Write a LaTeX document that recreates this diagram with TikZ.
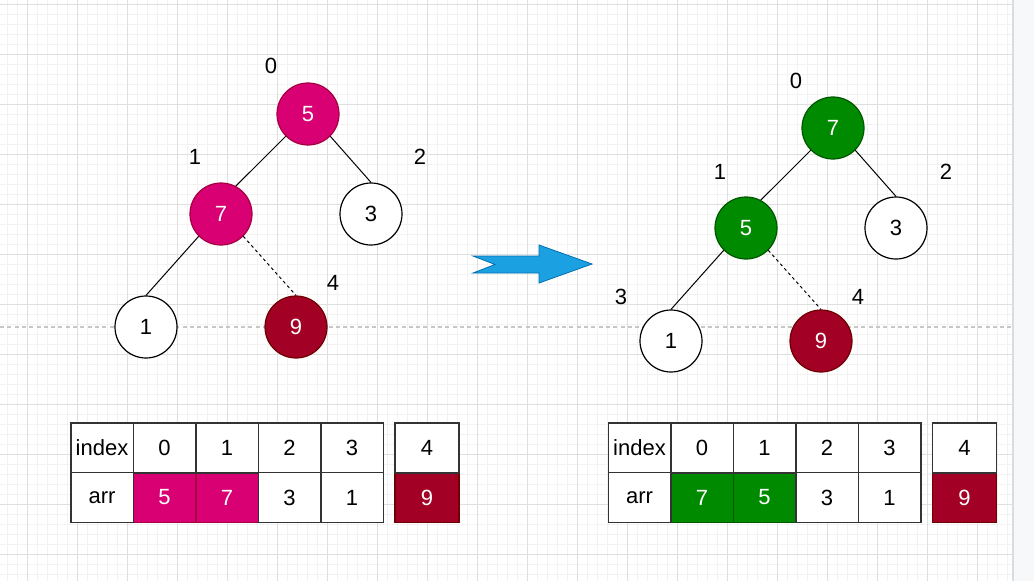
\documentclass[tikz,border=0pt]{standalone}
\usepackage{fontspec}
\setmainfont{Liberation Sans}
\definecolor{pinkf}{HTML}{D80073}
\definecolor{pinkd}{HTML}{A50040}
\definecolor{redf}{HTML}{A20025}
\definecolor{redd}{HTML}{6F0000}
\definecolor{greenf}{HTML}{008A00}
\definecolor{greend}{HTML}{005700}
\definecolor{bluef}{HTML}{1BA1E2}
\definecolor{blued}{HTML}{006EAF}
\definecolor{gridminor}{HTML}{F2F2F2}
\definecolor{gridmajor}{HTML}{DFDFDF}
\definecolor{sidebar}{HTML}{F7F8F9}
\definecolor{sideline}{HTML}{DADCE0}
\definecolor{cellline}{HTML}{333333}
\tikzset{
  txt/.style={font=\fontsize{22}{26}\selectfont},
  vert/.style={circle, draw=black, fill=white, line width=1.2pt, minimum size=62pt, inner sep=0pt, txt},
  pinkv/.style={vert, fill=pinkf, draw=pinkd, text=white},
  redv/.style={vert, fill=redf, draw=redd, text=white},
  greenv/.style={vert, fill=greenf, draw=greend, text=white},
  lab/.style={inner sep=0pt, txt},
  treeedge/.style={line width=1pt, draw=black},
  hidden/.style={treeedge, dash pattern=on 3pt off 3pt},
  cell/.style={rectangle, draw=cellline, fill=white, line width=1.5pt, minimum width=62.5pt, minimum height=50pt, inner sep=0pt, txt},
  pinkc/.style={cell, fill=pinkf, draw=pinkd, text=white},
  redc/.style={cell, fill=redf, draw=redd, text=white},
  greenc/.style={cell, fill=greenf, draw=greend, text=white},
  minorline/.style={draw=gridminor, line width=0.8pt},
  majorline/.style={draw=gridmajor, line width=0.9pt},
}
\begin{document}
\begin{tikzpicture}[x=1pt, y=-1pt]
\useasboundingbox (0,0) rectangle (1034,581);
\fill[white] (0,0) rectangle (1034,581);
% grid
\foreach \x in {7,17,...,1007} \draw[minorline] (\x,0) -- (\x,581);
\foreach \y in {4,14,...,580} \draw[minorline] (0,\y) -- (1012,\y);
\foreach \x in {27,77,...,1007} \draw[majorline] (\x,0) -- (\x,581);
\foreach \y in {4,54,...,580} \draw[majorline] (0,\y) -- (1012,\y);
% right side strip
\fill[sidebar] (1013,0) rectangle (1034,581);
\draw[sideline, line width=1.2pt] (1013,0) -- (1013,581);
% dashed guide line
\draw[draw=black!22, line width=1.3pt, dash pattern=on 4pt off 3.3pt] (0,327) -- (1012,327);

% arrow
\draw[fill=bluef, draw=blued, line width=0.8pt, line join=miter]
  (473,256) -- (539,256) -- (539,245) -- (592,264) -- (539,283) -- (539,273) -- (473,273) -- (495,264.5) -- cycle;

% left tree
\node[pinkv] (La) at (308,114) {5};
\node[pinkv] (Lb) at (221,214) {7};
\node[vert]  (Lc) at (371,214) {3};
\node[vert]  (Ld) at (146,327) {1};
\node[redv]  (Le) at (296,327) {9};
\draw[treeedge] (La.south west) -- (Lb.62);
\draw[treeedge] (La.south east) -- (Lc.north);
\draw[treeedge] (Lb.south west) -- (Ld.north);
\draw[hidden] (Lb.south east) -- (Le.north);
\node[lab] (La0) at (271,66) {0};
\node[lab] (Lb1) at (195,157) {1};
\node[lab] (Lc2) at (420,157) {2};
\node[lab] (Le4) at (333,283) {4};

% right tree
\node[greenv] (Ra) at (833,128) {7};
\node[greenv] (Rb) at (746,228) {5};
\node[vert]   (Rc) at (896,228) {3};
\node[vert]   (Rd) at (671,341) {1};
\node[redv]   (Re) at (821,341) {9};
\draw[treeedge] (Ra.south west) -- (Rb.62);
\draw[treeedge] (Ra.south east) -- (Rc.north);
\draw[treeedge] (Rb.south west) -- (Rd.north);
\draw[hidden] (Rb.south east) -- (Re.north);
\node[lab] (Ra0) at (796,81) {0};
\node[lab] (Rb1) at (720,172) {1};
\node[lab] (Rc2) at (946,172) {2};
\node[lab] (Rd3) at (621,297) {3};
\node[lab] (Re4) at (858,297) {4};

% left table
\node[pinkc] (LT21) at (164.5,497.5) {5};
\node[pinkc] (LT22) at (227,497.5) {7};
\node[redc, minimum width=64pt]  (LT25) at (427,497.5) {9};
\node[cell] (LT10) at (102,448) {index};
\node[cell] (LT11) at (164.5,448) {0};
\node[cell] (LT12) at (227,448) {1};
\node[cell] (LT13) at (289.5,448) {2};
\node[cell] (LT14) at (352,448) {3};
\node[cell, minimum width=64pt] (LT15) at (427,448) {4};
\node[cell] (LT20) at (102,497.5) {arr};
\node[cell] (LT23) at (289.5,497.5) {3};
\node[cell] (LT24) at (352,497.5) {1};

% right table
\node[greenc] (RT21) at (702,497.5) {7};
\node[greenc] (RT22) at (764.5,497.5) {5};
\node[redc, minimum width=64pt]  (RT25) at (964.5,497.5) {9};
\node[cell] (RT10) at (639.5,448) {index};
\node[cell] (RT11) at (702,448) {0};
\node[cell] (RT12) at (764.5,448) {1};
\node[cell] (RT13) at (827,448) {2};
\node[cell] (RT14) at (889.5,448) {3};
\node[cell, minimum width=64pt] (RT15) at (964.5,448) {4};
\node[cell] (RT20) at (639.5,497.5) {arr};
\node[cell] (RT23) at (827,497.5) {3};
\node[cell] (RT24) at (889.5,497.5) {1};
\end{tikzpicture}
\end{document}
